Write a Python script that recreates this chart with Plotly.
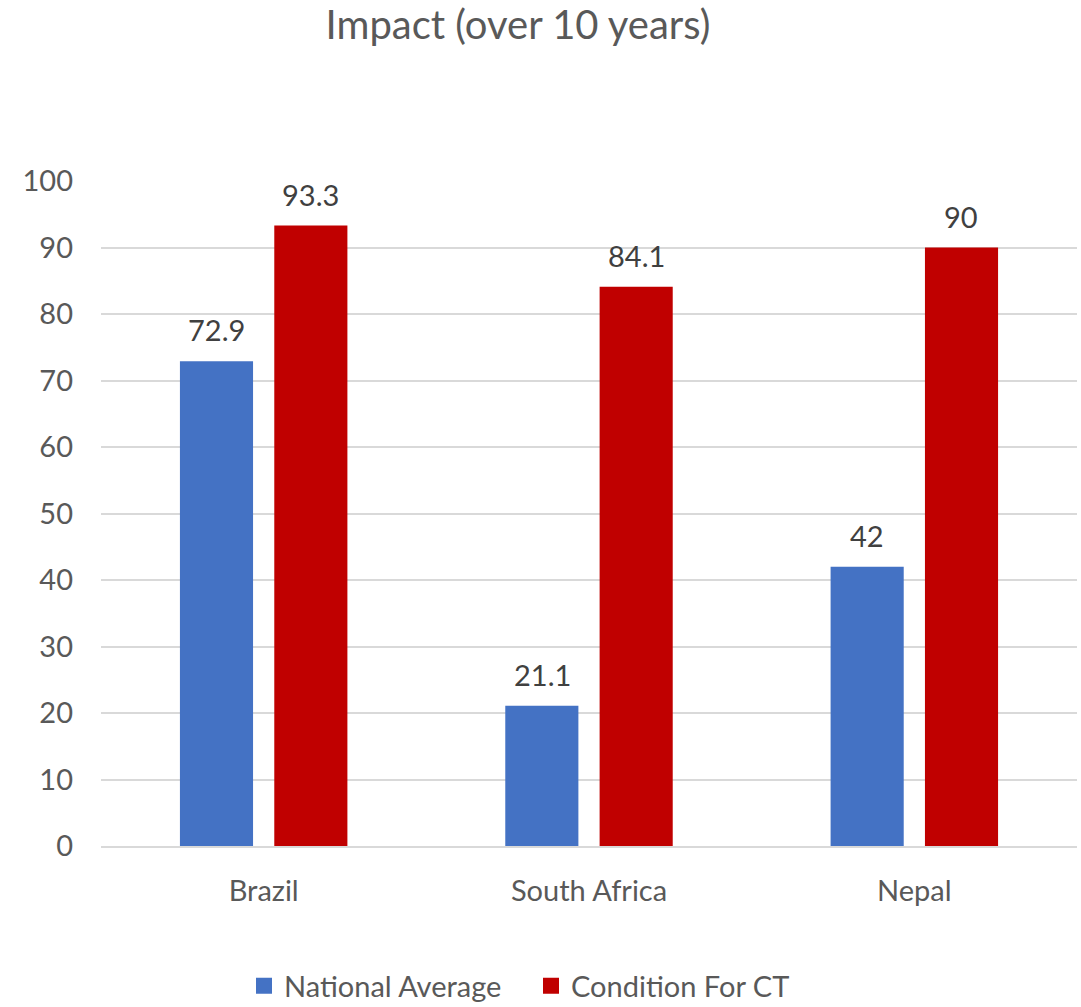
import plotly.graph_objects as go

categories = ["Brazil", "South Africa", "Nepal"]
national_average = [72.9, 21.1, 42]
condition_for_ct = [93.3, 84.1, 90]
y_ticks = [0, 10, 20, 30, 40, 50, 60, 70, 80, 90, 100]

series = [
    ("National Average", national_average, "#4472C4", -47),
    ("Condition For CT", condition_for_ct, "#C00000", 47),
]

FONT = "Lato, 'Noto Sans', sans-serif"
W, H = 1081, 1007
left, right, top, bottom = 101, 1077, 181, 846

fig = go.Figure()
annotations = []
for name, values, color, dx in series:
    fig.add_trace(go.Bar(
        name=name, x=categories, y=values, showlegend=False,
        marker=dict(color=color, line=dict(width=0)),
    ))
    # larger square legend swatch
    fig.add_trace(go.Scatter(
        name=name, x=[None], y=[None], mode="markers",
        marker=dict(symbol="square", size=18, color=color),
    ))
    for cat, v in zip(categories, values):
        annotations.append(dict(
            x=cat, y=v, text=f"{v:g}", showarrow=False, xanchor="center",
            yanchor="bottom", xshift=dx, yshift=12,
            font=dict(size=29, color="#404040", family=FONT),
        ))

fig.update_layout(
    width=W, height=H,
    margin=dict(l=left, r=W - right, t=top, b=H - bottom, pad=0),
    paper_bgcolor="white", plot_bgcolor="white",
    barmode="group", bargap=0.42, bargroupgap=0.225,
    font=dict(family=FONT, color="#595959"),
    title=dict(text="Impact (over 10 years)", x=518 / W, xanchor="center",
               y=1 - 25 / H, yanchor="middle", xref="container", yref="container",
               font=dict(size=40, color="#595959", family=FONT)),
    annotations=annotations,
    legend=dict(orientation="h", x=531 / W, xanchor="center", xref="container",
                y=1 - 986 / H, yanchor="middle", yref="container",
                font=dict(size=29, color="#595959", family=FONT),
                itemwidth=30, traceorder="normal",
                entrywidth=242, entrywidthmode="pixels"),
)
fig.update_yaxes(range=[0, 100], tickvals=y_ticks, showgrid=True, gridcolor="#D9D9D9",
                 gridwidth=1.5, zeroline=False, showline=False, ticks="",
                 tickfont=dict(size=29, color="#595959", family=FONT), ticklabelstandoff=27)
fig.update_xaxes(showline=True, linecolor="#D9D9D9", linewidth=1.5, ticks="",
                 tickfont=dict(size=29, color="#595959", family=FONT), ticklabelstandoff=18)

fig.write_html("out.html")
